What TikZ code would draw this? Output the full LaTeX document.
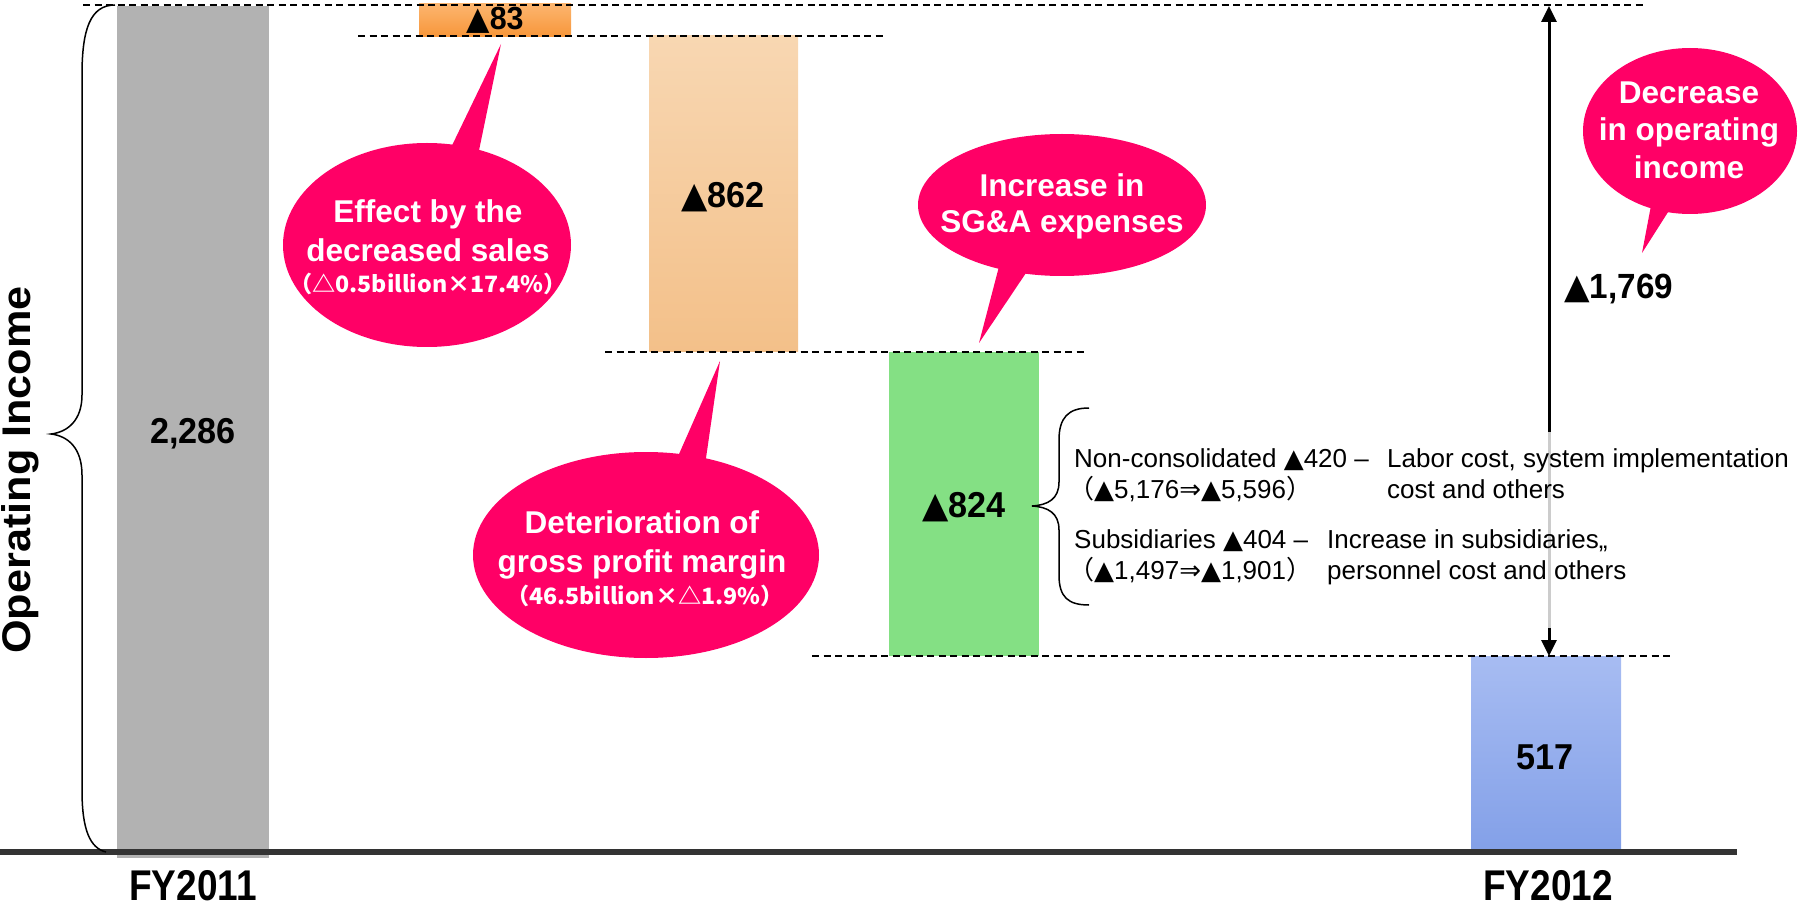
\documentclass[tikz,border=0pt]{standalone}
\usepackage{fontspec}
\setmainfont{Liberation Sans}
\newfontfamily\cjk{Noto Sans CJK JP}
\newfontfamily\dv{DejaVu Sans}
\usetikzlibrary{arrows.meta}
\definecolor{mag}{HTML}{FF0066}
\definecolor{bargray}{HTML}{B2B2B2}
\definecolor{axisgray}{HTML}{333333}
\definecolor{orgtop}{HTML}{FCB56E}
\definecolor{orgbot}{HTML}{F7963A}
\definecolor{peachtop}{HTML}{F8D7B2}
\definecolor{peachbot}{HTML}{F3C089}
\definecolor{sgagreen}{HTML}{84E084}
\definecolor{bluetop}{HTML}{A7BCF2}
\definecolor{bluebot}{HTML}{83A0E8}
\tikzset{
  bubtxt/.style={text=white, font=\fontsize{31.5}{38}\selectfont\bfseries, inner sep=0, anchor=base},
  bubsub/.style={text=white, font=\fontsize{22.5}{26}\selectfont\cjk\bfseries, inner sep=0, anchor=base},
  numtxt/.style={font=\fontsize{36}{40}\selectfont\bfseries, inner sep=0},
  yeartxt/.style={font=\fontsize{43}{46}\selectfont\bfseries, inner sep=0},
  detail/.style={font=\fontsize{26}{30}\selectfont, inner sep=0, anchor=base west},
  guide/.style={line width=1.6pt, dash pattern=on 7pt off 4.5pt},
  bubble/.style={fill=mag},
  bracepath/.style={line width=1.5pt},
}
\newcommand{\nx}[1]{\scalebox{0.95}[1]{#1}}
\newcommand{\tri}{{\dv ▲}}
\begin{document}
\begin{tikzpicture}[x=1pt,y=-1pt]
\useasboundingbox (0,0) rectangle (1800,909);

% bars
\fill[bargray] (117,6) rectangle (269,858);
\shade[top color=orgtop, bottom color=orgbot] (419,4) rectangle (571,37);
\shade[top color=peachtop, bottom color=peachbot] (649,36) rectangle (798,352);
\fill[sgagreen] (889,352) rectangle (1039,656);
\shade[top color=bluetop, bottom color=bluebot] (1471,656) rectangle (1621,852);

% axis
\coordinate (ax0) at (0,852);
\coordinate (ax1) at (1737,852);
\draw[axisgray, line width=6pt] (ax0) -- (ax1);

% guides
\coordinate (g1a) at (83,5);   \coordinate (g1b) at (1647,5);
\coordinate (g2a) at (358,36); \coordinate (g2b) at (884,36);
\coordinate (g3a) at (605,352); \coordinate (g3b) at (1085,352);
\coordinate (g4a) at (812,656); \coordinate (g4b) at (1674,656);
\draw[guide] (g1a) -- (g1b);
\draw[guide] (g2a) -- (g2b);
\draw[guide] (g3a) -- (g3b);
\draw[guide] (g4a) -- (g4b);

% bar labels
\node[numtxt] (v2286) at (193,434) {\nx{2,286}};
\node[font=\fontsize{32}{36}\selectfont\bfseries, inner sep=0] (v83) at (495,20) {\nx{\tri83}};
\node[numtxt] (v862) at (723,197) {\nx{\tri862}};
\node[numtxt] (v824) at (964,507) {\nx{\tri824}};
\node[numtxt] (v517) at (1545,757) {\nx{517}};
\node[yeartxt] (fy11) at (193,886) {\scalebox{0.86}[1]{FY2011}};
\node[yeartxt] (fy12) at (1548,886) {\scalebox{0.86}[1]{FY2012}};

% vertical label and left brace
\node[rotate=90, font=\fontsize{40}{44}\selectfont\bfseries, inner sep=0] (oi) at (20,470) {\scalebox{1.08}[1]{Operating Income}};
\draw[bracepath] (115,5) .. controls (90,5) and (82,30) .. (82,75) -- (82,395)
  .. controls (82,420) and (68,432) .. (51,434)
  .. controls (68,436) and (82,448) .. (82,475) -- (82,790)
  .. controls (82,830) and (90,848) .. (106,852);

% total arrow
\coordinate (atop) at (1549,6);
\coordinate (abot) at (1549,656);
\draw[line width=3pt, {Triangle[width=15pt,length=16pt]}-{Triangle[width=15pt,length=16pt]}] (atop) -- (abot);
\coordinate (gr1) at (1549,432);
\coordinate (gr2) at (1549,628);
\draw[line width=3pt, black!20] (gr1) -- (gr2);
\node[font=\fontsize{35}{40}\selectfont\bfseries, inner sep=0, anchor=west] (v1769) at (1564,289) {\nx{\tri1,769}};

% callout 1
\coordinate (t1) at (501,44);
\fill[bubble] (445,160) -- (t1) -- (476,165) -- cycle;
\fill[bubble] (427,245) ellipse [x radius=144pt, y radius=102pt];
\node[bubtxt] (c1a) at (428,223) {Effect by the};
\node[bubtxt] (c1b) at (428,262) {decreased sales};
\node[bubsub] (c1c) at (428,293) {\scalebox{1.03}[1]{（△0.5billion×17.4\%）}};

% callout 2
\coordinate (t2) at (720,361);
\fill[bubble] (672,470) -- (t2) -- (704,472) -- cycle;
\fill[bubble] (646,555) ellipse [x radius=173pt, y radius=103pt];
\node[bubtxt] (c2a) at (642,533) {Deterioration of};
\node[bubtxt] (c2b) at (642,572) {gross profit margin};
\node[bubsub] (c2c) at (645,604) {\scalebox{1.03}[1]{（46.5billion×△1.9\%）}};

% callout 3
\coordinate (t3) at (979,343);
\fill[bubble] (1002,255) -- (t3) -- (1036,258) -- cycle;
\fill[bubble] (1062,205) ellipse [x radius=144pt, y radius=71pt];
\node[bubtxt] (c3a) at (1062,197) {Increase in};
\node[bubtxt] (c3b) at (1062,233) {SG\&A expenses};

% callout 4
\coordinate (t4) at (1642,253);
\fill[bubble] (1653,195) -- (t4) -- (1677,198) -- cycle;
\fill[bubble] (1690,131) ellipse [x radius=107pt, y radius=83pt];
\node[bubtxt] (c4a) at (1689,104) {Decrease};
\node[bubtxt] (c4b) at (1689,141) {in operating};
\node[bubtxt] (c4c) at (1689,179) {income};

% right brace and details
\draw[bracepath] (1089,408) .. controls (1068,408) and (1059,418) .. (1059,440) -- (1059,482)
  .. controls (1059,499) and (1048,505) .. (1032,506)
  .. controls (1048,507) and (1059,513) .. (1059,530) -- (1059,575)
  .. controls (1059,597) and (1068,605) .. (1089,605);
\node[detail] (d1a) at (1074,467) {Non-consolidated \tri420 –};
\node[detail] (d1b) at (1387,467) {Labor cost, system implementation};
\node[detail] (d2a) at (1068,498) {{\cjk （}\tri5,176{\dv ⇒}\tri5,596{\cjk ）}};
\node[detail] (d2b) at (1387,498) {cost and others};
\node[detail] (d3a) at (1074,548) {Subsidiaries \tri404 –};
\node[detail] (d3b) at (1327,548) {Increase in subsidiaries,,};
\node[detail] (d4a) at (1068,579) {{\cjk （}\tri1,497{\dv ⇒}\tri1,901{\cjk ）}};
\node[detail] (d4b) at (1327,579) {personnel cost and others};
\end{tikzpicture}
\end{document}
